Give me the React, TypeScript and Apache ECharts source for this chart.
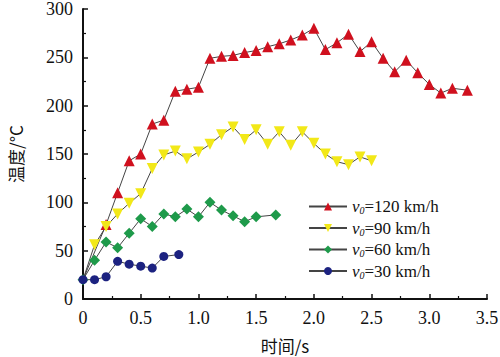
import React, { useEffect, useRef } from "react";
import * as echarts from "echarts";

const seriesNames = ["120", "90", "60", "30"];
const red120: [number, number][] = [
  [0, 20], [0.2, 77], [0.3, 110], [0.4, 143], [0.5, 150], [0.6, 181], [0.7, 185], [0.8, 215], [0.9, 217], [1.0, 219],
  [1.1, 249], [1.2, 251], [1.3, 252], [1.4, 255], [1.5, 257], [1.6, 261], [1.7, 264], [1.8, 268], [1.9, 273], [2.0, 280],
  [2.1, 258], [2.2, 265], [2.3, 274], [2.4, 256], [2.5, 266], [2.6, 249], [2.7, 235], [2.8, 247], [2.9, 234], [3.0, 222],
  [3.1, 213], [3.2, 218], [3.33, 216],
];
const yellow90: [number, number][] = [
  [0, 20], [0.1, 56], [0.2, 75], [0.3, 88], [0.4, 99], [0.5, 109], [0.6, 135], [0.7, 149], [0.8, 153], [0.9, 145], [1.0, 152],
  [1.1, 160], [1.2, 170], [1.3, 178], [1.4, 165], [1.5, 175], [1.6, 160], [1.7, 173], [1.8, 159], [1.9, 173], [2.0, 161],
  [2.1, 150], [2.2, 142], [2.3, 139], [2.4, 147], [2.5, 143],
];
const green60: [number, number][] = [
  [0, 20], [0.1, 40], [0.2, 59], [0.3, 53], [0.4, 68], [0.5, 83], [0.6, 75], [0.7, 88], [0.8, 85], [0.9, 93], [1.0, 85],
  [1.1, 100], [1.2, 92], [1.3, 86], [1.4, 80], [1.5, 85], [1.67, 87],
];
const blue30: [number, number][] = [
  [0, 20], [0.1, 20], [0.2, 23], [0.3, 39], [0.4, 36], [0.5, 34], [0.6, 32], [0.7, 44], [0.83, 46],
];
const xTicks = ["0", "0.5", "1.0", "1.5", "2.0", "2.5", "3.0", "3.5"];

const serif = "Times New Roman, Liberation Serif, serif";
const cjk = "Noto Sans CJK SC";

export default function App() {
  const ref = useRef<HTMLDivElement>(null);
  useEffect(() => {
    if (!ref.current) return;
    const chart = echarts.init(ref.current, undefined, { renderer: "svg" });
    const mk = (
      name: string,
      data: [number, number][],
      symbol: string,
      color: string,
      size: number,
      hideFirst: boolean,
      rotate = 0
    ) => ({
      name,
      type: "line",
      data: data.map((d, i) =>
        i === 0 && hideFirst ? { value: d, symbol: "none" } : { value: d }
      ),
      symbol,
      symbolSize: size,
      symbolRotate: rotate,
      showAllSymbol: true,
      lineStyle: { color: "#444", width: 1 },
      itemStyle: { color },
      z: 2,
    });
    chart.setOption({
      animation: false,
      backgroundColor: "#fff",
      textStyle: { fontFamily: serif },
      grid: { left: 83, right: 13, top: 9, bottom: 58, outerBoundsMode: "none", containLabel: false },
      legend: {
        left: 303,
        top: 193,
        orient: "vertical",
        itemWidth: 38,
        itemHeight: 10,
        itemGap: 4,
        data: seriesNames,
        formatter: (n: string) => `{i|v}{s|0}{t|=${n} km/h}`,
        textStyle: {
          fontFamily: serif,
          fontSize: 17,
          color: "#111",
          rich: {
            i: { fontFamily: serif, fontStyle: "italic", fontSize: 17, color: "#111" },
            s: { fontFamily: serif, fontStyle: "italic", fontSize: 10, color: "#111", verticalAlign: "bottom", padding: [8, 0, 0, 0] },
            t: { fontFamily: serif, fontSize: 17, color: "#111" },
          },
        },
      },
      xAxis: {
        type: "value",
        min: 0,
        max: 3.5,
        interval: 0.5,
        name: "时间/s",
        nameLocation: "middle",
        nameGap: 38,
        nameTextStyle: { fontFamily: cjk, fontSize: 17, color: "#111" },
        axisLine: { lineStyle: { color: "#111", width: 2 } },
        axisTick: { inside: true, length: 5, lineStyle: { color: "#111", width: 1.5 } },
        minorTick: { show: true, splitNumber: 2, length: 3, lineStyle: { color: "#111", width: 1.2 } },
        splitLine: { show: false },
        axisLabel: {
          fontFamily: serif,
          fontSize: 18,
          color: "#111",
          margin: 10,
          formatter: (v: number) => xTicks[Math.round(v / 0.5)] ?? String(v),
        },
      },
      yAxis: {
        type: "value",
        min: 0,
        max: 300,
        interval: 50,
        name: "温度/°C",
        nameLocation: "middle",
        nameGap: 59,
        nameTextStyle: { fontFamily: cjk, fontSize: 17, color: "#111" },
        axisLine: { show: true, lineStyle: { color: "#111", width: 2 } },
        axisTick: { show: true, inside: true, length: 5, lineStyle: { color: "#111", width: 1.5 } },
        minorTick: { show: true, splitNumber: 2, length: 3, lineStyle: { color: "#111", width: 1.2 } },
        splitLine: { show: false },
        axisLabel: { fontFamily: serif, fontSize: 18, color: "#111", margin: 10 },
      },
      series: [
        mk("120", red120, "triangle", "#d0101e", 11, true),
        mk("90", yellow90, "triangle", "#f2e818", 11, true, 180),
        mk("60", green60, "diamond", "#1e9a4a", 11, false),
        mk("30", blue30, "circle", "#1c2280", 9, false),
      ],
    });
    return () => chart.dispose();
  }, []);
  return <div ref={ref} style={{ width: 500, height: 357, position: "absolute", left: 0, top: 0 }} />;
}
